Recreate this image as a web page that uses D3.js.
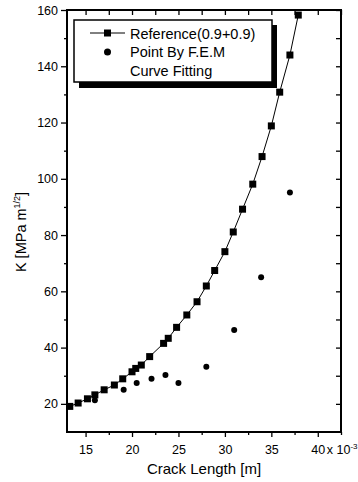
<!DOCTYPE html>
<html lang="en">
<head>
    <meta charset="UTF-8">
    <title>K vs Crack Length</title>
    <script src="https://cdn.jsdelivr.net/npm/d3@7"></script>
    <style>
        body{margin:0;background:#fff;}
        svg text{font-family:"Liberation Sans",Arial,sans-serif;fill:#000;}
    </style>
</head>
<body>
<svg width="358" height="482"></svg>
<script>
// reference curve (squares), crack length in 10^-3 m
var refX=[13.3,14.2,15.2,16.0,17.0,18.1,19.0,20.0,20.4,21.0,21.9,23.4,23.9,24.8,25.9,27.0,28.0,28.9,30.0,30.9,31.9,33.0,34.0,35.0,35.9,37.0,37.9];
var refY=[19.1,20.3,21.8,23.2,25.0,26.7,28.9,31.4,32.6,33.8,36.8,41.5,43.3,47.2,51.6,56.3,61.9,67.4,74.1,81.1,89.2,98.1,107.9,118.8,130.8,144.0,158.2];
// F.E.M points
var femX=[16.0,19.1,20.5,22.1,23.6,25.0,28.0,31.0,33.9,37.0];
var femY=[21.3,25.0,27.4,28.9,30.3,27.4,33.2,46.3,65.0,95.1];

var xTicks=[15,20,25,30,35,40];
var yTicks=[20,40,60,80,100,120,140,160];
var legendLabels=["Reference(0.9+0.9)","Point By F.E.M","Curve Fitting"];

// plot box (don't use "top" - it's window.top)
var pL=67,pR=341,pT=10,pB=432;
var svg=d3.select('svg');
var x=d3.scaleLinear().domain([13,42.5]).range([pL,pR]);
var y=d3.scaleLinear().domain([10,160]).range([pB,pT]);

var minorX=d3.range(17.5,42.6,5);
var minorY=d3.range(30,160,20);

function styleAxis(g){
    g.select('.domain').remove();
    g.selectAll('line').attr('stroke','#000').attr('stroke-width',1.3);
    g.selectAll('text').attr('font-size',12.5).style('fill','#000');
}
svg.append('g').attr('transform','translate(0,'+pB+')')
    .call(d3.axisBottom(x).tickValues(xTicks).tickSize(5).tickPadding(8)).call(styleAxis);
svg.append('g').attr('transform','translate(0,'+pB+')')
    .call(d3.axisBottom(x).tickValues(minorX).tickSize(3).tickFormat('')).call(styleAxis);
svg.append('g').attr('transform','translate('+pL+',0)')
    .call(d3.axisLeft(y).tickValues(yTicks).tickSize(6).tickPadding(3)).call(styleAxis);
svg.append('g').attr('transform','translate('+pL+',0)')
    .call(d3.axisLeft(y).tickValues(minorY).tickSize(3).tickFormat('')).call(styleAxis);
svg.append('g').attr('transform','translate(0,'+pT+')')
    .call(d3.axisBottom(x).tickValues(xTicks.concat(minorX)).tickSize(5).tickFormat('')).call(styleAxis);
svg.append('g').attr('transform','translate('+pR+',0)')
    .call(d3.axisLeft(y).tickValues(yTicks.concat(minorY)).tickSize(5).tickFormat('')).call(styleAxis);

// frame
svg.append('rect').attr('x',pL).attr('y',pT).attr('width',pR-pL).attr('height',pB-pT)
    .attr('fill','none').attr('stroke','#000').attr('stroke-width',2);

// x 10^-3 multiplier
var mult=svg.append('text').attr('x',x(40)+9).attr('y',pB+22).attr('font-size',12.5);
mult.append('tspan').text('x 10');
mult.append('tspan').attr('dy',-5).attr('font-size',8).text('-3');

// axis titles
svg.append('text').attr('x',(pL+pR)/2).attr('y',474).attr('text-anchor','middle')
    .attr('font-size',15).text('Crack Length [m]');
var yl=svg.append('text').attr('transform','translate(26,232) rotate(-90)')
    .attr('text-anchor','middle').attr('font-size',14.5);
yl.append('tspan').text('K [MPa m');
yl.append('tspan').attr('dy',-6).attr('font-size',9).text('1/2');
yl.append('tspan').attr('dy',6).text(']');

// reference line + squares
var pts=refX.map((d,i)=>[d,refY[i]]);
svg.append('path').datum(pts)
    .attr('fill','none').attr('stroke','#000').attr('stroke-width',1)
    .attr('d',d3.line().x(d=>x(d[0])).y(d=>y(d[1])));
svg.selectAll('rect.sq').data(pts).enter().append('rect').attr('class','sq')
    .attr('x',d=>x(d[0])-3.5).attr('y',d=>y(d[1])-3.5)
    .attr('width',7).attr('height',7).attr('fill','#000');

// F.E.M points
svg.selectAll('circle.fem').data(femX.map((d,i)=>[d,femY[i]])).enter().append('circle')
    .attr('class','fem').attr('cx',d=>x(d[0])).attr('cy',d=>y(d[1])).attr('r',3).attr('fill','#000');

// legend
var lg=svg.append('g');
lg.append('rect').attr('x',79).attr('y',25).attr('width',198).attr('height',63).attr('fill','#000');
lg.append('rect').attr('x',74).attr('y',20).attr('width',198).attr('height',62)
    .attr('fill','#fff').attr('stroke','#000').attr('stroke-width',1.5);
lg.append('line').attr('x1',90).attr('x2',125).attr('y1',33).attr('y2',33).attr('stroke','#000');
lg.append('rect').attr('x',104).attr('y',29.5).attr('width',7).attr('height',7).attr('fill','#000');
lg.append('circle').attr('cx',107.5).attr('cy',52).attr('r',3.5).attr('fill','#000');
lg.selectAll('text').data(legendLabels).enter().append('text')
    .attr('x',130).attr('y',(d,i)=>38.5+i*18.5).attr('font-size',14.5).text(d=>d);
</script>
</body>
</html>
